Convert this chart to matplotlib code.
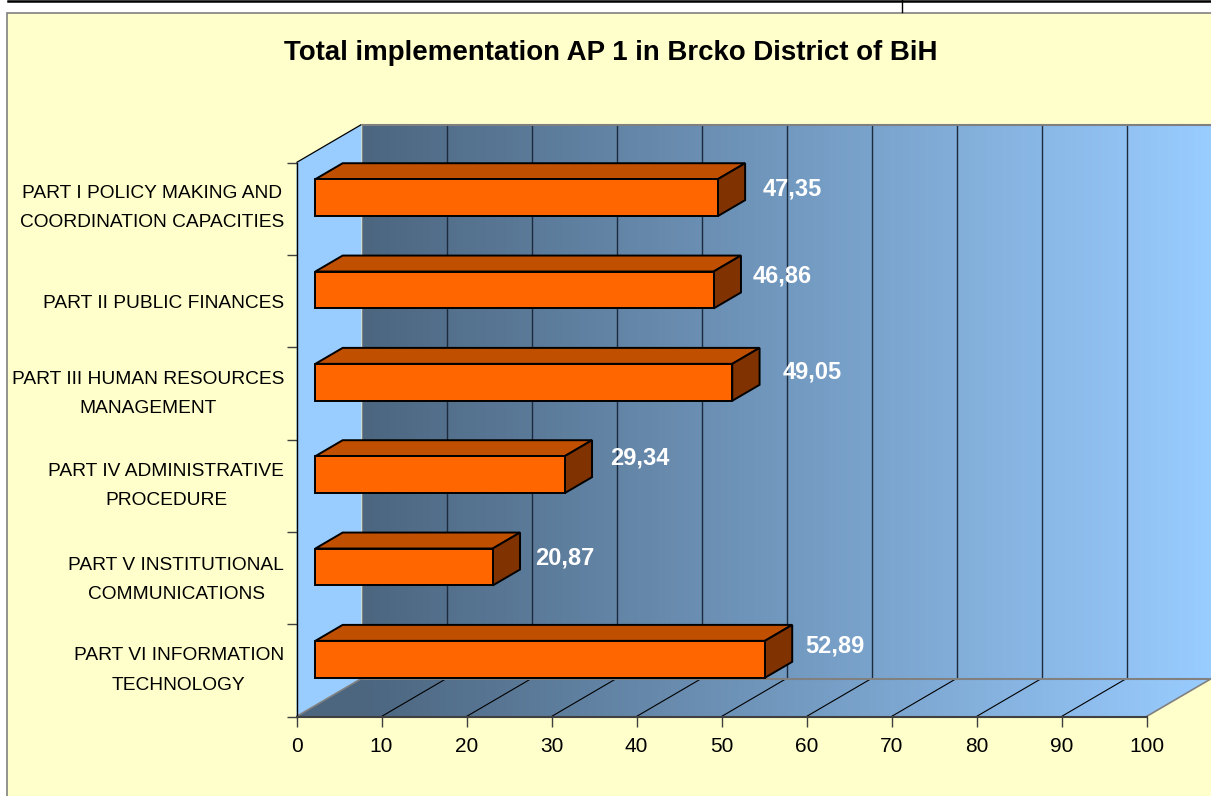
import numpy as np
import matplotlib
matplotlib.use("Agg")
import matplotlib.pyplot as plt
from matplotlib.patches import Polygon, Rectangle
from matplotlib.lines import Line2D
from matplotlib.transforms import Affine2D, IdentityTransform

plt.rcParams['font.family'] = ['Liberation Sans', 'DejaVu Sans']

# ---- data ----
title = "Total implementation AP 1 in Brcko District of BiH"
categories = [
    "PART I POLICY MAKING AND\nCOORDINATION CAPACITIES",
    "PART II PUBLIC FINANCES",
    "PART III HUMAN RESOURCES\nMANAGEMENT",
    "PART IV ADMINISTRATIVE\nPROCEDURE",
    "PART V INSTITUTIONAL\nCOMMUNICATIONS",
    "PART VI INFORMATION\nTECHNOLOGY",
]
values = [47.35, 46.86, 49.05, 29.34, 20.87, 52.89]
value_labels = ["47,35", "46,86", "49,05", "29,34", "20,87", "52,89"]
x_ticks = [0, 10, 20, 30, 40, 50, 60, 70, 80, 90, 100]

# ---- styling / layout (pixels) ----
W, H = 1211, 796
DEPTH_X, DEPTH_Y = 65.0, 38.0
BAR_NEAR, BAR_FAR = 0.29, 0.71
BAR_LOW, BAR_HIGH = 0.30, 0.70
label_nudge = [(74, -10), (69, -4), (80, -8), (75, -2), (72, -9), (70, -5)]
cat_label_pos = [0.41, 1.5, 2.42, 3.415, 4.43, 5.415]
BG = "#FFFFCC"

fig = plt.figure(figsize=(W / 100, H / 100), dpi=100, facecolor="white")
fig.add_artist(Rectangle((7 / W, -0.01), 1.01, (796 - 13) / H + 0.01, transform=fig.transFigure,
                         facecolor=BG, edgecolor="#808080", lw=1.2, zorder=-5))
fig.add_artist(Line2D([8 / W, 1], [1 - 1.2 / H] * 2, transform=fig.transFigure, color="black", lw=1.8))
fig.add_artist(Line2D([902.5 / W] * 2, [1, 1 - 12 / H], transform=fig.transFigure, color="black", lw=1))
fig.text(611 / W, 1 - 53 / H, title, ha="center", va="center", fontsize=19.9, fontweight="bold", color="black")

ax = fig.add_axes([296.5 / W, (H - 716.5) / H, 850 / W, 554 / H])
ax.patch.set_visible(False)
ax.set_xlim(0, 100)
ax.set_ylim(len(categories), 0)


def px(v, c, d=0.0):
    """value, category position, depth fraction -> display pixels"""
    x, y = ax.transData.transform((v, c))
    return (x + DEPTH_X * d, y + DEPTH_Y * d)


n = len(categories)
back = ax.transData + Affine2D().translate(DEPTH_X, DEPTH_Y)

# side wall
ax.add_patch(Polygon([px(0, 0), px(0, 0, 1), px(0, n, 1), px(0, n)], transform=IdentityTransform(),
                     facecolor="#99CCFF", edgecolor="none", clip_on=False, zorder=1))

# gradient for back wall and floor
grad = np.linspace(0, 1, 256).reshape(1, -1)
cmap = matplotlib.colors.LinearSegmentedColormap.from_list("wall", ["#4C6680", "#99CCFF"])
wall = Polygon([px(0, 0, 1), px(100, 0, 1), px(100, n, 1), px(0, n, 1)], transform=IdentityTransform())
floor = Polygon([px(0, n), px(100, n), px(100, n, 1), px(0, n, 1)], transform=IdentityTransform())
for clip, ext in ((wall, (0, 100, n, 0)), (floor, (0, 100, n + 0.6, n - 0.2))):
    im = ax.imshow(grad, cmap=cmap, extent=ext, aspect="auto", transform=back, zorder=2, interpolation="bilinear")
    im.set_clip_path(clip)
    im.set_clip_box(fig.bbox)
# floor corner left of the wall start keeps the darkest tone
ax.add_patch(Polygon([px(0, n), px(0, n, 1), px(0.4, n, 1), px(8.1, n)], transform=IdentityTransform(),
                     facecolor="#4C6680", edgecolor="none", clip_on=False, zorder=2))
ax.set_xlim(0, 100)
ax.set_ylim(n, 0)


def seg(p, q, color, lw, z=3):
    ax.add_line(Line2D([p[0], q[0]], [p[1], q[1]], transform=IdentityTransform(), color=color, lw=lw,
                       clip_on=False, zorder=z, solid_capstyle="butt"))


# grid lines
for t in x_ticks[1:-1]:
    seg(px(t, 0, 1), px(t, n, 1), "#1B2A3C", 1.0)
    seg(px(t, n), px(t, n, 1), "black", 0.8)

# wall / floor edges
seg(px(0, 0, 1), px(100, 0, 1), "#808080", 1.5)
seg(px(0, n, 1), px(100, n, 1), "#808080", 1.5)
seg(px(0, n), px(0, n, 1), "#808080", 1.2)
seg(px(0, 0, 1), px(0, n, 1), "#808080", 0.8)
seg(px(100, n), px(100, n, 1), "#808080", 1.2)
seg(px(0, 0), px(0, 0, 1), "black", 0.9)

# bars
for i, (v, lab, (nx, ny)) in enumerate(zip(values, value_labels, label_nudge)):
    t, b = i + BAR_LOW, i + BAR_HIGH
    faces = [
        ([px(0, t, BAR_NEAR), px(v, t, BAR_NEAR), px(v, t, BAR_FAR), px(0, t, BAR_FAR)], "#C04F00"),
        ([px(v, t, BAR_NEAR), px(v, b, BAR_NEAR), px(v, b, BAR_FAR), px(v, t, BAR_FAR)], "#803300"),
        ([px(0, t, BAR_NEAR), px(v, t, BAR_NEAR), px(v, b, BAR_NEAR), px(0, b, BAR_NEAR)], "#FF6600"),
    ]
    for pts, col in faces:
        ax.add_patch(Polygon(pts, transform=IdentityTransform(), facecolor=col, edgecolor="black", lw=1.4,
                             joinstyle="miter", clip_on=False, zorder=5))
    cx, cy = px(v, t, BAR_NEAR)
    ax.text(cx + nx, cy + ny, lab, transform=IdentityTransform(), ha="center", va="center",
            fontsize=17, fontweight="bold", color="white", zorder=6, clip_on=False)

# axes
for s in ("top", "right"):
    ax.spines[s].set_visible(False)
ax.spines["left"].set_color("black")
ax.spines["left"].set_linewidth(1.0)
ax.spines["bottom"].set_color("#404040")
ax.spines["bottom"].set_linewidth(1.5)
for s in ax.spines.values():
    s.set_zorder(4)

ax.set_xticks(x_ticks)
ax.set_xticklabels([str(t) for t in x_ticks])
ax.set_yticks(range(n + 1))
ax.set_yticklabels([])
ax.set_yticks(cat_label_pos, categories, minor=True)
ax.tick_params(axis="x", length=7.2, width=1, color="#404040", labelsize=15, pad=7.5, labelcolor="black")
ax.tick_params(axis="y", which="major", length=7.2, width=1, color="#404040")
ax.tick_params(axis="y", which="minor", length=0, pad=9, labelsize=13.8, labelcolor="black")
for lab in ax.get_yticklabels(minor=True):
    lab.set_multialignment("center")
    lab.set_linespacing(1.93)

fig.savefig("out.png", dpi=100)
